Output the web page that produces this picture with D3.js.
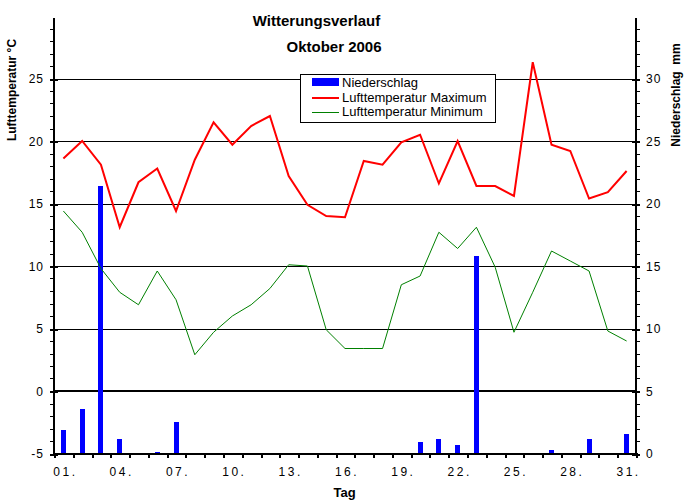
<!DOCTYPE html>
<html><head><meta charset="utf-8">
<script src="https://cdnjs.cloudflare.com/ajax/libs/d3/7.8.5/d3.min.js"></script>
<style>
html,body{margin:0;padding:0;background:#fff;}
svg{display:block;font-family:"Liberation Sans",Arial,sans-serif;}
</style></head><body>
<svg id="c" width="689" height="503"></svg>
<script>
const days = d3.range(1, 32);
const tempMax = [18.6,20.0,18.1,13.1,16.7,17.8,14.4,18.5,21.5,19.7,21.2,22.0,17.2,14.9,14.0,13.9,18.4,18.1,19.9,20.5,16.6,20.0,16.4,16.4,15.6,26.3,19.7,19.2,15.4,15.9,17.6];
const tempMin = [14.4,12.7,9.8,7.9,6.9,9.6,7.3,2.9,4.7,6.0,6.9,8.2,10.1,10.0,4.9,3.4,3.4,3.4,8.5,9.2,12.7,11.4,13.1,9.9,4.7,7.9,11.2,10.4,9.6,4.8,4.0];
const precip = [1.9,3.6,21.4,1.2,0,0.15,2.5,0,0,0,0,0,0,0,0,0,0,0,0,0.9,1.2,0.7,15.8,0,0,0,0.3,0,1.2,0,1.6];
const tempTicks = [-5,0,5,10,15,20,25];
const precipTicks = [0,5,10,15,20,25,30];
const xTickDays = [1,4,7,10,13,16,19,22,25,28,31];
const xTickLabels = ["01.","04.","07.","10.","13.","16.","19.","22.","25.","28.","31."];
const legendLabels = ["Niederschlag","Lufttemperatur Maximum","Lufttemperatur Minimum"];

const svg = d3.select("#c");
const L = 54, R = 636;
const x = d3.scaleBand().domain(days).range([L, R]);
const cx = d => x(d) + x.bandwidth()/2;
const yT = d3.scaleLinear().domain([-5, 30]).range([453.5, 16]);
const yP = d3.scaleLinear().domain([0, 35]).range([453.5, 16]);

// gridlines
svg.append("g").selectAll("line").data(tempTicks.filter(t => t > -5)).join("line")
  .attr("x1", L).attr("x2", R)
  .attr("y1", d => Math.round(yT(d)) + (d === 0 ? 0 : 0.5))
  .attr("y2", d => Math.round(yT(d)) + (d === 0 ? 0 : 0.5))
  .attr("stroke", "#000").attr("stroke-width", d => d === 0 ? 2 : 1)
  .attr("shape-rendering", "crispEdges");

// bars
svg.append("g").selectAll("rect").data(days.filter((d,i) => precip[i] > 0)).join("rect")
  .attr("x", d => cx(d) - 2.5).attr("width", 5)
  .attr("y", d => yP(precip[d-1])).attr("height", d => yP(0) - yP(precip[d-1]))
  .attr("fill", "#0000ff").attr("shape-rendering", "crispEdges");

// lines
const lineMax = d3.line().x(d => cx(d)).y(d => yT(tempMax[d-1]));
const lineMin = d3.line().x(d => cx(d)).y(d => yT(tempMin[d-1]));
svg.append("path").attr("d", lineMin(days)).attr("fill", "none").attr("stroke", "#008000").attr("stroke-width", 1);
svg.append("path").attr("d", lineMax(days)).attr("fill", "none").attr("stroke", "#ff0000").attr("stroke-width", 2);

// left axis
const gl = svg.append("g").attr("shape-rendering", "crispEdges");
gl.append("line").attr("x1", L).attr("x2", L).attr("y1", 18).attr("y2", 454.5).attr("stroke", "#000").attr("stroke-width", 2);
gl.selectAll(".mn").data(d3.range(-4, 30).filter(v => v % 5 !== 0)).join("line")
  .attr("x1", L - 4).attr("x2", L).attr("y1", d => Math.round(yT(d)) + 0.5).attr("y2", d => Math.round(yT(d)) + 0.5)
  .attr("stroke", "#000").attr("stroke-width", 1);
gl.selectAll(".mj").data(tempTicks).join("line")
  .attr("x1", L - 4).attr("x2", L + 4).attr("y1", d => Math.round(yT(d)) + 0.5).attr("y2", d => Math.round(yT(d)) + 0.5)
  .attr("stroke", "#000").attr("stroke-width", 2);
svg.append("g").selectAll("text").data(tempTicks).join("text")
  .attr("x", 44).attr("y", d => yT(d) + 4.5).attr("text-anchor", "end")
  .attr("font-size", 12).attr("letter-spacing", "1px").text(d => d);

// right axis
const gr = svg.append("g").attr("shape-rendering", "crispEdges");
gr.append("line").attr("x1", R).attr("x2", R).attr("y1", 18).attr("y2", 454.5).attr("stroke", "#000").attr("stroke-width", 2);
gr.selectAll(".mn").data(d3.range(1, 35).filter(v => v % 5 !== 0)).join("line")
  .attr("x1", R).attr("x2", R + 4).attr("y1", d => Math.round(yP(d)) + 0.5).attr("y2", d => Math.round(yP(d)) + 0.5)
  .attr("stroke", "#000").attr("stroke-width", 1);
gr.selectAll(".mj").data(precipTicks).join("line")
  .attr("x1", R - 4).attr("x2", R + 4).attr("y1", d => Math.round(yP(d)) + 0.5).attr("y2", d => Math.round(yP(d)) + 0.5)
  .attr("stroke", "#000").attr("stroke-width", 2);
svg.append("g").selectAll("text").data(precipTicks).join("text")
  .attr("x", 646).attr("y", d => yP(d) + 4.5).attr("text-anchor", "start")
  .attr("font-size", 12).attr("letter-spacing", "1px").text(d => d);

// x axis
const gx = svg.append("g").attr("shape-rendering", "crispEdges");
gx.append("line").attr("x1", L - 1).attr("x2", R + 1).attr("y1", 453.5).attr("y2", 453.5).attr("stroke", "#000").attr("stroke-width", 2);
gx.selectAll(".t").data(d3.range(0, 32)).join("line")
  .attr("x1", i => Math.round(L + i * x.step()) + 0.5).attr("x2", i => Math.round(L + i * x.step()) + 0.5)
  .attr("y1", 453).attr("y2", 458).attr("stroke", "#000").attr("stroke-width", 2);
svg.append("g").selectAll("text").data(xTickDays).join("text")
  .attr("x", d => cx(d) + 2).attr("y", 476).attr("text-anchor", "middle")
  .attr("font-size", 12).attr("letter-spacing", "2.5px").text((d, i) => xTickLabels[i]);

// titles
svg.append("text").attr("x", 316.5).attr("y", 26).attr("text-anchor", "middle")
  .attr("font-size", 15).attr("font-weight", "bold").text("Witterungsverlauf");
svg.append("text").attr("x", 334).attr("y", 52).attr("text-anchor", "middle")
  .attr("font-size", 15).attr("font-weight", "bold").text("Oktober 2006");
svg.append("text").attr("x", 344.5).attr("y", 497).attr("text-anchor", "middle")
  .attr("font-size", 13).attr("font-weight", "bold").text("Tag");
svg.append("text").attr("transform", "translate(16,90) rotate(-90)").attr("text-anchor", "middle")
  .attr("font-size", 12).attr("font-weight", "bold").text("Lufttemperatur °C");
svg.append("text").attr("transform", "translate(680,95) rotate(-90)").attr("text-anchor", "middle")
  .attr("font-size", 12).attr("font-weight", "bold").style("white-space", "pre").text("Niederschlag  mm");

// legend
const lg = svg.append("g");
lg.append("rect").attr("x", 300.5).attr("y", 74.5).attr("width", 195).attr("height", 48)
  .attr("fill", "#fff").attr("stroke", "#000").attr("stroke-width", 1).attr("shape-rendering", "crispEdges");
lg.append("rect").attr("x", 312).attr("y", 78).attr("width", 27).attr("height", 8).attr("fill", "#0000ff");
lg.append("line").attr("x1", 312).attr("x2", 339).attr("y1", 98).attr("y2", 98).attr("stroke", "#ff0000").attr("stroke-width", 2);
lg.append("line").attr("x1", 312).attr("x2", 339).attr("y1", 112.5).attr("y2", 112.5).attr("stroke", "#008000").attr("stroke-width", 1);
lg.selectAll("text").data(legendLabels).join("text")
  .attr("x", 342).attr("y", (d, i) => 87 + i * 14.5).attr("font-size", 13).text(d => d);
</script>
</body></html>
